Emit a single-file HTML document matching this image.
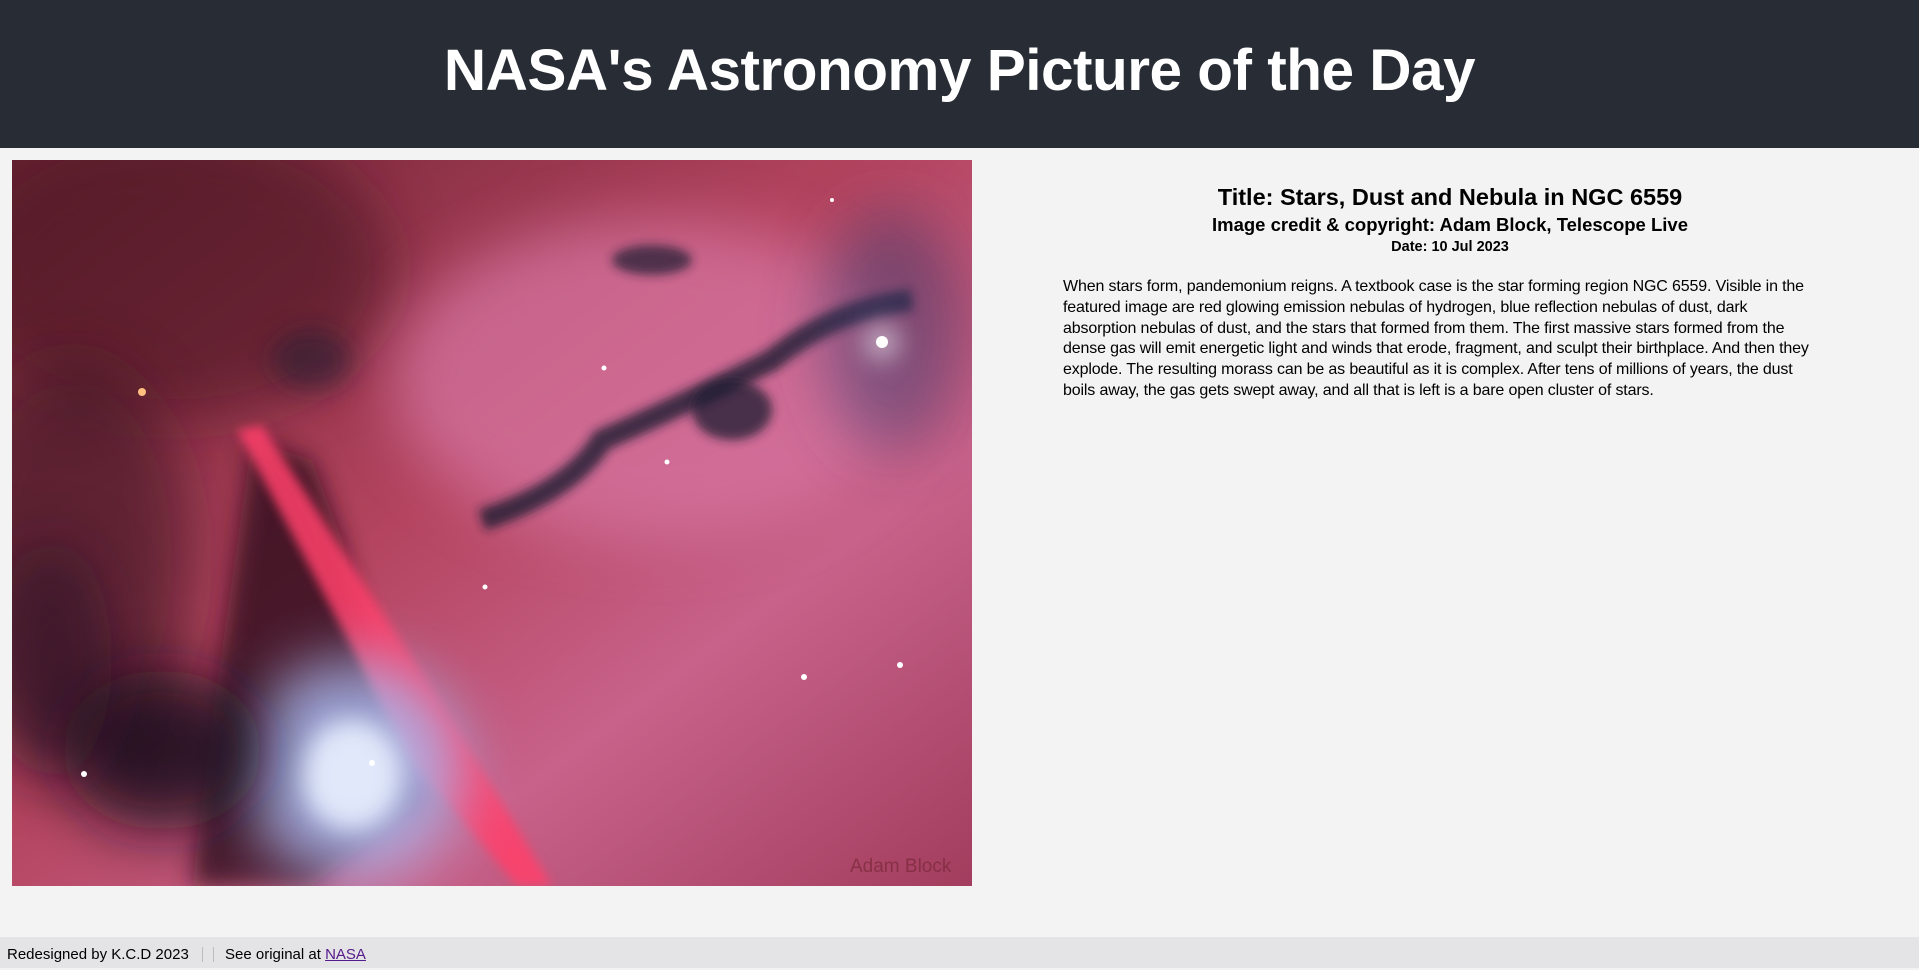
<!DOCTYPE html>
<html><head><meta charset="utf-8">
<style>
html,body{margin:0;padding:0;width:1919px;height:968px;overflow:hidden;background:#f3f3f3;font-family:"Liberation Sans",sans-serif;color:#000}
header{position:absolute;left:0;top:0;width:1919px;height:148px;background:#282c34;color:#fff;text-align:center}
header h1{margin:0;line-height:142px;font-size:58.5px;font-weight:bold;letter-spacing:-0.5px}
#img{position:absolute;left:12px;top:160px;width:960px;height:726px;overflow:hidden}
#info{position:absolute;left:1040px;top:181px;width:820px;text-align:center}
#info h2{margin:0;font-size:23.5px;line-height:32px}
#info h3{margin:0;font-size:18.5px;line-height:24px}
#info h4{margin:0;font-size:14.5px;line-height:20px}
#info p{margin:20px 0 0 23px;text-align:left;font-size:16px;line-height:20.8px;white-space:nowrap;letter-spacing:-0.15px}
footer{position:absolute;left:0;top:937px;width:1919px;height:31px;background:#e4e4e6;font-size:15px;line-height:31px}
footer span{position:absolute;top:2px}
.sep{position:absolute;top:10px;width:1px;height:15px;background:#bbb}
footer a{color:#551a8b}
</style></head><body>
<header><h1>NASA's Astronomy Picture of the Day</h1></header>
<div id="img">
<svg width="960" height="726" viewBox="0 0 960 726">
<defs>
<linearGradient id="bg" x1="0" y1="0" x2="1" y2="1"><stop offset="0" stop-color="#6a2232"/><stop offset=".45" stop-color="#b4445f"/><stop offset=".7" stop-color="#c8628a"/><stop offset="1" stop-color="#a23d5e"/></linearGradient>
<filter id="b1" x="-100%" y="-100%" width="300%" height="300%"><feGaussianBlur stdDeviation="30"/></filter>
<filter id="b2" x="-100%" y="-100%" width="300%" height="300%"><feGaussianBlur stdDeviation="12"/></filter>
<filter id="b3" x="-100%" y="-100%" width="300%" height="300%"><feGaussianBlur stdDeviation="5"/></filter>
</defs>
<rect width="960" height="726" fill="url(#bg)"/>
<ellipse cx="160" cy="110" rx="220" ry="150" fill="#4a1420" opacity=".6" filter="url(#b1)"/>
<ellipse cx="640" cy="220" rx="260" ry="160" fill="#d877a4" opacity=".7" filter="url(#b1)"/>
<ellipse cx="60" cy="400" rx="120" ry="200" fill="#3a1420" opacity=".6" filter="url(#b1)"/>
<polygon points="240,280 300,300 330,380 360,520 410,640 300,726 180,726 200,560" fill="#2e0e1c" opacity=".8" filter="url(#b2)"/>
<polygon points="225,270 250,265 440,560 540,726 505,726 400,600" fill="#ff3f6a" opacity=".85" filter="url(#b3)"/>
<ellipse cx="340" cy="610" rx="110" ry="110" fill="#a8b8ee" opacity=".85" filter="url(#b1)"/>
<ellipse cx="340" cy="615" rx="50" ry="55" fill="#e8f0ff" opacity=".9" filter="url(#b2)"/>
<ellipse cx="150" cy="590" rx="100" ry="80" fill="#140a1e" opacity=".85" filter="url(#b1)"/>
<ellipse cx="40" cy="500" rx="60" ry="120" fill="#1a1020" opacity=".5" filter="url(#b1)"/>
<path d="M470,360 Q560,330 590,280 Q660,250 760,200 Q820,150 900,140" stroke="#1c1a30" stroke-width="22" fill="none" opacity=".8" filter="url(#b3)"/>
<ellipse cx="720" cy="250" rx="40" ry="30" fill="#1c1a30" opacity=".75" filter="url(#b3)"/>
<ellipse cx="880" cy="170" rx="70" ry="120" fill="#3a3a6a" opacity=".5" filter="url(#b1)"/>
<ellipse cx="640" cy="100" rx="40" ry="15" fill="#1c1a30" opacity=".7" filter="url(#b3)"/>
<ellipse cx="300" cy="200" rx="40" ry="30" fill="#1c1a30" opacity=".5" filter="url(#b2)"/>
<circle cx="870" cy="182" r="18" fill="#fff" opacity=".5" filter="url(#b2)"/>
<circle cx="870" cy="182" r="6" fill="#fff"/>
<circle cx="130" cy="232" r="4" fill="#ffc080"/>
<circle cx="792" cy="517" r="3" fill="#fff"/><circle cx="888" cy="505" r="3" fill="#fff"/>
<circle cx="473" cy="427" r="2.5" fill="#fff"/><circle cx="72" cy="614" r="3" fill="#fff"/>
<circle cx="360" cy="603" r="3" fill="#fff"/><circle cx="592" cy="208" r="2.5" fill="#fff"/>
<circle cx="655" cy="302" r="2.5" fill="#fff"/><circle cx="820" cy="40" r="2" fill="#fff"/>
<text x="838" y="712" fill="#7a2838" opacity=".7" font-size="19" font-family="Liberation Sans, sans-serif">Adam Block</text>
</svg>
</div>
<div id="info">
<h2>Title: Stars, Dust and Nebula in NGC 6559</h2>
<h3>Image credit &amp; copyright: Adam Block, Telescope Live</h3>
<h4>Date: 10 Jul 2023</h4>
<p>When stars form, pandemonium reigns. A textbook case is the star forming region NGC 6559. Visible in the<br>featured image are red glowing emission nebulas of hydrogen, blue reflection nebulas of dust, dark<br>absorption nebulas of dust, and the stars that formed from them. The first massive stars formed from the<br>dense gas will emit energetic light and winds that erode, fragment, and sculpt their birthplace. And then they<br>explode. The resulting morass can be as beautiful as it is complex. After tens of millions of years, the dust<br>boils away, the gas gets swept away, and all that is left is a bare open cluster of stars.</p>
</div>
<footer>
<span style="left:7px">Redesigned by K.C.D 2023</span>
<div class="sep" style="left:202px"></div><div class="sep" style="left:213px"></div>
<span style="left:225px">See original at <a href="#">NASA</a></span>
</footer>
</body></html>
